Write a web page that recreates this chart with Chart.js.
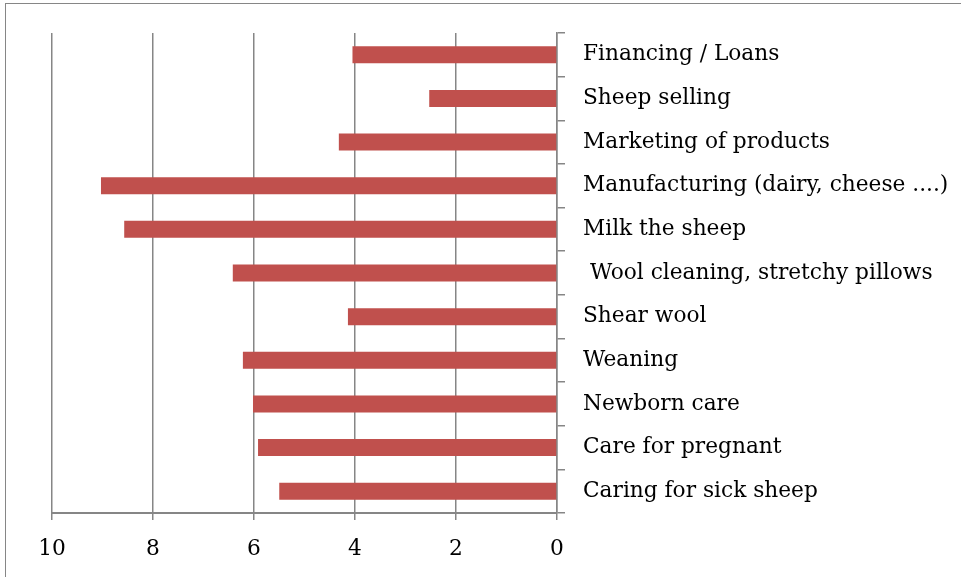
<!DOCTYPE html>
<html>
<head>
<meta charset="utf-8">
<script src="https://cdn.jsdelivr.net/npm/chart.js@4"></script>
<style>
  html, body { margin: 0; padding: 0; overflow: hidden; background: #fff; }
  #wrap { position: absolute; left: 0; top: 0; width: 961px; height: 577px; }
  #frame { position: absolute; left: 5px; top: 3px; width: 1000px; height: 700px;
           border: 1.5px solid #868686; box-sizing: border-box; }
</style>
</head>
<body>
<div id="wrap">
  <div id="frame"></div>
  <canvas id="mycanvas" width="961" height="577"></canvas>
</div>
<script>
// tasks, top to bottom as drawn
var tasks = [
  'Financing / Loans',
  'Sheep selling',
  'Marketing of products',
  'Manufacturing (dairy, cheese ....)',
  'Milk the sheep',
  ' Wool cleaning, stretchy pillows',
  'Shear wool',
  'Weaning',
  'Newborn care',
  'Care for pregnant',
  'Caring for sick sheep'
];
var scores = [4.05, 2.53, 4.32, 9.03, 8.57, 6.42, 4.14, 6.22, 6.02, 5.92, 5.5];
var xTicks = [0, 2, 4, 6, 8, 10];

var gridColor = '#868686';
var labelFont = { family: "'DejaVu Serif', serif", size: 21.7 };

var ctx = document.getElementById('mycanvas');

var barGraph = new Chart(ctx, {
  type: 'bar',
  data: {
    labels: tasks,
    datasets: [{
      data: scores,
      backgroundColor: '#C0504D',
      borderWidth: 0,
      barPercentage: 0.39,
      categoryPercentage: 1
    }]
  },
  options: {
    indexAxis: 'y',
    responsive: false,
    animation: false,
    layout: { padding: { left: 52, top: 33, right: 0, bottom: 0 } },
    plugins: { legend: { display: false }, tooltip: { enabled: false } },
    scales: {
      x: {
        reverse: true,
        min: 0,
        max: 10,
        afterBuildTicks: function(scale) {
          scale.ticks = xTicks.map(function(v) { return { value: v }; });
        },
        afterFit: function(scale) { scale.height = 64; },
        grid: { color: gridColor, lineWidth: 1.5, tickLength: 7 },
        border: { color: gridColor, width: 2 },
        ticks: { color: '#000', font: labelFont, padding: 16, maxRotation: 0 }
      },
      y: {
        position: 'right',
        afterFit: function(scale) { scale.width = 961 - 557; },
        grid: { offset: true, drawOnChartArea: false, color: gridColor, lineWidth: 1.5, tickLength: 8 },
        border: { color: gridColor, width: 1.5 },
        ticks: { color: '#000', font: labelFont, padding: 18, autoSkip: false }
      }
    }
  }
});
</script>
</body>
</html>
